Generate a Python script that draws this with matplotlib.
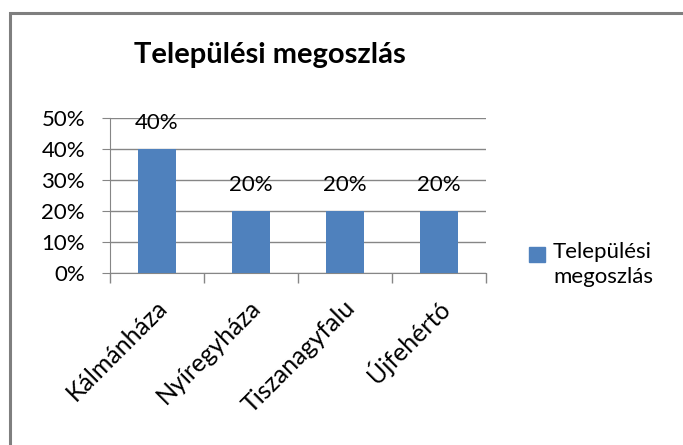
"""Települési megoszlás - Excel style column chart."""

import matplotlib.pyplot as plt
from matplotlib.patches import Rectangle
from matplotlib.ticker import FixedLocator, PercentFormatter
from matplotlib.transforms import ScaledTranslation

plt.rcParams["font.family"] = ["Lato", "DejaVu Sans"]

TOWNS = ["Kálmánháza", "Nyíregyháza", "Tiszanagyfalu", "Újfehértó"]
SHARE = [0.40, 0.20, 0.20, 0.20]
Y_TICKS = [0.0, 0.1, 0.2, 0.3, 0.4, 0.5]
SERIES = "Települési megoszlás"

BAR = "#4F81BD"
GRID = "#868686"

fig = plt.figure(figsize=(6.83, 4.45), dpi=100)

# chart frame (right/bottom edges run off the picture)
fig.patches.append(Rectangle((10 / 683, -0.1), 1.2, 1 - 13 / 445 + 0.1,
                             transform=fig.transFigure, fill=False,
                             edgecolor="#7F7F7F", linewidth=2.2))

ax = fig.add_axes([110 / 683, 1 - 273 / 445, 376 / 683, 155 / 445])
x = range(len(TOWNS))
bars = ax.bar(x, SHARE, width=0.4, color=BAR, zorder=3)

ax.set_xlim(-0.5, len(TOWNS) - 0.5)
ax.set_ylim(0, 0.5)
ax.set_yticks(Y_TICKS)
ax.yaxis.set_major_formatter(PercentFormatter(1.0, decimals=0))
ax.grid(axis="y", color=GRID, linewidth=1.0, zorder=0)
ax.set_axisbelow(True)

ax.set_xticks(list(x))
ax.set_xticklabels(TOWNS, rotation=45, ha="right", va="center",
                   rotation_mode="anchor", fontsize=18)
ax.tick_params(axis="x", which="major", length=0, pad=22)
shift = ScaledTranslation(6 / 100, 0, fig.dpi_scale_trans)
for lab in ax.get_xticklabels():
    lab.set_transform(lab.get_transform() + shift)
ax.xaxis.set_minor_locator(FixedLocator([i - 0.5 for i in range(len(TOWNS) + 1)]))
ax.tick_params(axis="x", which="minor", length=7, color=GRID, width=1)
ax.tick_params(axis="y", length=6, color=GRID, labelsize=16, pad=12)

for side in ("top", "right"):
    ax.spines[side].set_visible(False)
ax.spines["left"].set_color(GRID)
ax.spines["bottom"].set_color(GRID)

for rect, v in zip(bars, SHARE):
    ax.annotate(f"{v:.0%}", (rect.get_x() + rect.get_width() / 2, v + 0.085),
                ha="center", va="center", fontsize=16, zorder=4)

fig.text(270 / 683, 1 - 55 / 445, SERIES, ha="center", va="center",
         fontsize=21, fontweight="bold")

# legend
fig.patches.append(Rectangle((529 / 683, 1 - 262 / 445), 16 / 683, 15 / 445,
                             transform=fig.transFigure, color=BAR))
fig.text(553 / 683, 1 - 242 / 445, "Települési\nmegoszlás", ha="left", va="top",
         fontsize=16, linespacing=1.3)

fig.savefig("out.png", dpi=100)
